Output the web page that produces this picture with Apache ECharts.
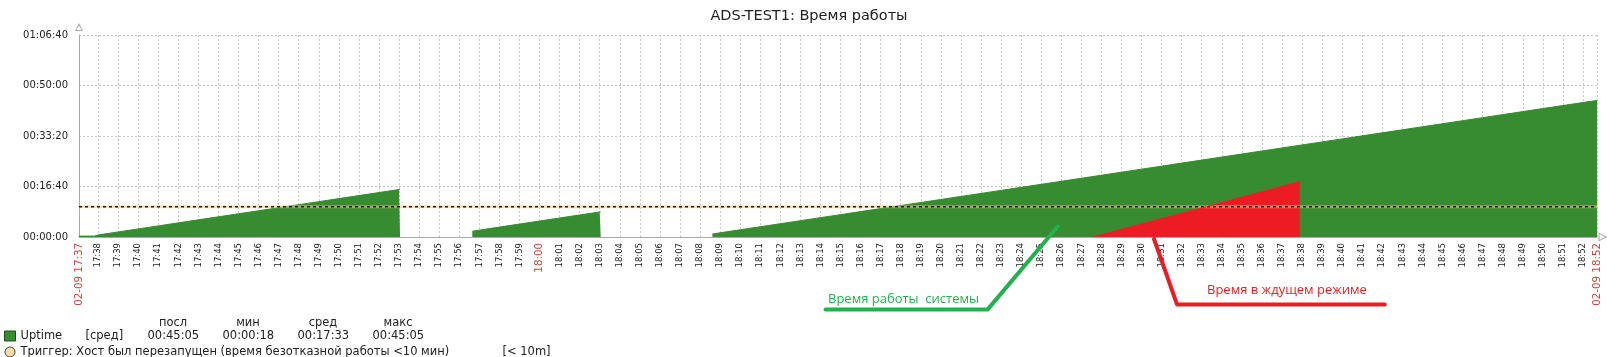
<!DOCTYPE html>
<html><head><meta charset="utf-8">
<script src="https://cdn.jsdelivr.net/npm/echarts@6/dist/echarts.min.js"></script>
<style>html,body{margin:0;padding:0;background:#fff}#c{width:1618px;height:357px}</style>
</head><body><div id="c"></div>
<script>
// ---------- data ----------
const titleText = 'ADS-TEST1: Время работы';
const xStart = '17:37:03';
const xEnd = '18:52:42';
const edgeLabels = ['02-09 17:37', '02-09 18:52'];
const tickLabels = ['17:38','17:39','17:40','17:41','17:42','17:43','17:44','17:45','17:46','17:47','17:48','17:49','17:50','17:51','17:52','17:53','17:54','17:55','17:56','17:57','17:58','17:59',
  '18:00','18:01','18:02','18:03','18:04','18:05','18:06','18:07','18:08','18:09','18:10','18:11','18:12','18:13','18:14','18:15','18:16','18:17','18:18','18:19','18:20',
  '18:21','18:22','18:23','18:24','18:25','18:26','18:27','18:28','18:29','18:30','18:31','18:32','18:33','18:34','18:35','18:36','18:37','18:38','18:39','18:40',
  '18:41','18:42','18:43','18:44','18:45','18:46','18:47','18:48','18:49','18:50','18:51','18:52'];
const redTickLabels = ['18:00'];
const yMax = 4000, yStep = 1000;

const uptimeTimes = [
  '17:37:03','17:37:50','17:38:00','17:39:00','17:40:00','17:41:00','17:42:00','17:43:00','17:44:00','17:45:00','17:46:00','17:47:00','17:48:00','17:49:00','17:50:00','17:51:00','17:52:00','17:53:00','17:53:03','17:53:04',
  '17:56:39','17:57:00','17:58:00','17:59:00','18:00:00','18:01:00','18:02:00','18:03:00','18:03:03','18:03:04',
  '18:08:37','18:09:00','18:10:00','18:11:00','18:12:00','18:13:00','18:14:00','18:15:00','18:16:00','18:17:00','18:18:00','18:19:00','18:20:00',
  '18:21:00','18:22:00','18:23:00','18:24:00','18:25:00','18:26:00','18:27:00','18:28:00','18:29:00','18:30:00','18:31:00','18:32:00','18:33:00',
  '18:34:00','18:35:00','18:36:00','18:37:00','18:38:00','18:39:00','18:40:00','18:41:00','18:42:00','18:43:00','18:44:00','18:45:00','18:46:00',
  '18:47:00','18:48:00','18:49:00','18:50:00','18:51:00','18:52:00','18:52:42'];
const uptimeValues = [
  18,18,40,100,160,220,280,340,400,460,520,580,640,700,760,820,880,940,943,null,
  115,136,196,256,316,376,436,496,499,null,
  60,83,143,203,263,323,383,443,503,563,623,683,743,
  803,863,923,983,1043,1103,1163,1223,1283,1343,1403,1463,1523,
  1583,1643,1703,1763,1823,1883,1943,2003,2063,2123,2183,2243,2303,
  2363,2423,2483,2543,2603,2663,2705];

const standbyTimes = ['18:27:35', '18:37:53'];
const standbyValues = [0, 1093];

const triggerValue = 600;
const triggerName = 'Триггер: Хост был перезапущен (время безотказной работы <10 мин)';
const triggerTag = '[< 10m]';
const statHeaders = ['посл', 'мин', 'сред', 'макс'];
const statValues = ['00:45:05', '00:00:18', '00:17:33', '00:45:05'];
const statFunc = '[сред]';
const uptimeNote = 'Время работы  системы';
const standbyNote = 'Время в ждущем режиме';

// ---------- helpers ----------
const FONT = 'DejaVu Sans';
function toSec(t){ const p = t.split(':').map(Number); return p[0]*3600 + p[1]*60 + (p[2] || 0); }
function hms(v){ const h = Math.floor(v/3600), m = Math.floor(v%3600/60), s = Math.round(v%60);
  return [h,m,s].map(n => String(n).padStart(2,'0')).join(':'); }

const xMin = toSec(xStart), xMax = toSec(xEnd);
const labelMap = {};
labelMap[xMin] = edgeLabels[0];
tickLabels.forEach(t => { labelMap[toSec(t)] = t; });
labelMap[xMax] = edgeLabels[1];
const redSet = new Set(edgeLabels.concat(redTickLabels));
const tickVals = [xMin].concat(tickLabels.map(toSec), [xMax]);

const uptimeData = uptimeTimes.map((t, i) => [toSec(t), uptimeValues[i] == null ? '-' : uptimeValues[i]]);
const standbyData = standbyTimes.map((t, i) => [toSec(t), standbyValues[i]]);
const triggerData = [[xMin, triggerValue], [xMax, triggerValue]];

const hollowArrow = 'path://M5,0L10,10L0,10Z M5,3L1.8,8.8L8.2,8.8Z';
const GREEN = '#378b30';

const chart = echarts.init(document.getElementById('c'), null, {renderer: 'canvas'});
chart.setOption({
  animation: false,
  backgroundColor: '#fff',
  title: {
    text: titleText, left: 'center', top: 9, padding: 0,
    textStyle: {fontFamily: FONT, fontSize: 14.5, fontWeight: 'normal', color: '#222'}
  },
  grid: {left: 79, right: 21, top: 35, bottom: 120, containLabel: false},
  xAxis: {
    type: 'value', min: xMin, max: xMax,
    axisLine: {show: true, lineStyle: {color: '#aaa', width: 1}, symbol: ['none', hollowArrow], symbolSize: [9, 10], symbolOffset: [0, 6]},
    axisTick: {show: false, customValues: tickVals},
    axisLabel: {
      customValues: tickVals, rotate: 90, margin: 6, fontSize: 8.5, color: '#222', fontFamily: FONT,
      formatter: v => { const s = labelMap[Math.round(v)] || ''; return redSet.has(s) ? '{r|' + s + '}' : s; },
      rich: {r: {color: '#c9453f', fontSize: 10.3, fontFamily: FONT}}
    },
    splitLine: {show: true, lineStyle: {color: '#c8c8c8', width: 1, type: [2, 2]}}
  },
  yAxis: {
    type: 'value', min: 0, max: yMax, interval: yStep,
    axisLine: {show: true, lineStyle: {color: '#aaa', width: 1}, symbol: ['none', hollowArrow], symbolSize: [8, 8], symbolOffset: [0, 8]},
    axisTick: {show: false},
    axisLabel: {formatter: v => hms(v), fontSize: 10, color: '#222', margin: 11, fontFamily: FONT},
    splitLine: {show: true, lineStyle: {color: '#c8c8c8', width: 1, type: [2, 2]}}
  },
  legend: {
    orient: 'vertical', left: 4, top: 329, width: 700, height: 60, padding: 0, itemGap: 2, itemWidth: 11, itemHeight: 10,
    selectedMode: false,
    data: [
      {name: 'Uptime', icon: 'rect', itemStyle: {color: GREEN, borderColor: '#1c4f17', borderWidth: 1}},
      {name: triggerName, icon: 'circle', itemStyle: {color: '#f9dba6', borderColor: '#444', borderWidth: 1}}
    ],
    formatter: name => {
      if (name === 'Uptime') return '{n|Uptime}{a|' + statFunc + '}' + statValues.map(v => '{v|' + v + '}').join('');
      return '{t|' + name + '}{u|' + triggerTag + '}';
    },
    textStyle: {
      fontFamily: FONT, fontSize: 11.5, color: '#222', lineHeight: 14,
      rich: {
        n: {width: 65, fontFamily: FONT, fontSize: 11.5, color: '#222'},
        a: {width: 62, fontFamily: FONT, fontSize: 11.5, color: '#222'},
        v: {width: 75, fontFamily: FONT, fontSize: 11.5, color: '#222'},
        t: {width: 482, fontFamily: FONT, fontSize: 11.5, color: '#222'},
        u: {fontFamily: FONT, fontSize: 11.5, color: '#222'}
      }
    }
  },
  graphic: statHeaders.map((h, i) => ({
    type: 'text', x: 173 + i * 75, y: 323.5, z: 100,
    style: {text: h, fill: '#222', font: '11.5px "DejaVu Sans"', textAlign: 'center', textVerticalAlign: 'middle', align: 'center', verticalAlign: 'middle'}
  })).concat([
    {type: 'polyline', z: 100, shape: {points: [[825.5, 309.6], [987.5, 309.6], [1057.7, 226.5]]},
      style: {stroke: '#22b14c', lineWidth: 4, fill: null, lineCap: 'round', lineJoin: 'round'}},
    {type: 'polyline', z: 100, shape: {points: [[1154, 239], [1177, 304.4], [1384.8, 304.4]]},
      style: {stroke: '#ed1c24', lineWidth: 4, fill: null, lineCap: 'round', lineJoin: 'round'}},
    {type: 'text', z: 100, x: 828, y: 299,
      style: {text: uptimeNote, fill: '#22b14c', font: '13px "Open Sans"', textVerticalAlign: 'middle', verticalAlign: 'middle'}},
    {type: 'text', z: 100, x: 1207, y: 290,
      style: {text: standbyNote, fill: '#ed1c24', font: '13px "Open Sans"', textVerticalAlign: 'middle', verticalAlign: 'middle'}}
  ]),
  series: [
    {name: 'Uptime', type: 'line', data: uptimeData, showSymbol: false, symbol: 'none', connectNulls: false,
      lineStyle: {color: GREEN, width: 1}, itemStyle: {color: GREEN}, areaStyle: {color: GREEN, opacity: 1}, silent: true},
    {name: triggerName, type: 'line', data: triggerData, symbol: 'none', silent: true,
      lineStyle: {color: '#f0c878', width: 3, opacity: 0.55}, itemStyle: {color: '#f9dba6'}},
    {name: 'triggerDash', type: 'line', data: triggerData, symbol: 'none', silent: true,
      lineStyle: {color: '#1a1a1a', width: 1.6, type: [3, 3]}},
    {name: 'standby', type: 'line', data: standbyData, symbol: 'none', silent: true,
      lineStyle: {color: '#ed1c24', width: 1}, areaStyle: {color: '#ed1c24', opacity: 1}}
  ]
});
</script>
</body></html>
